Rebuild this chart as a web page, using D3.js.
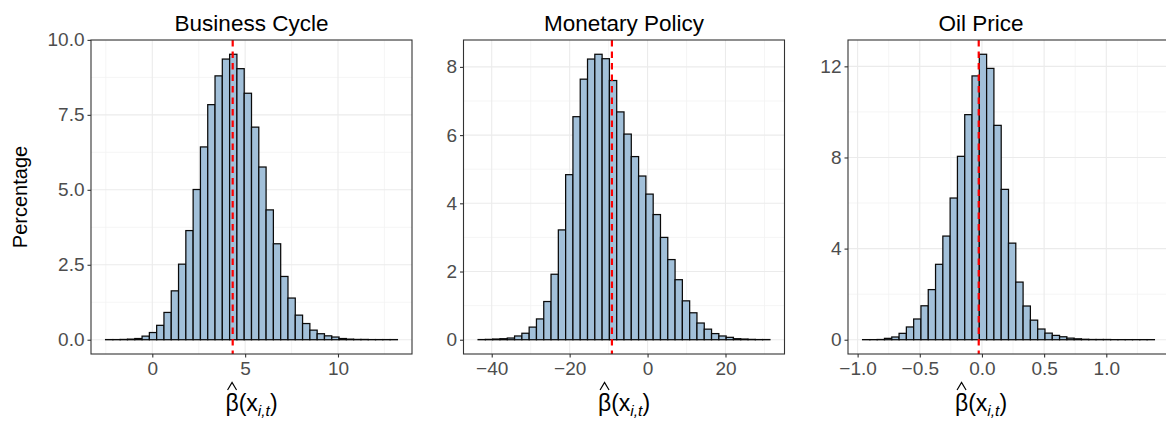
<!DOCTYPE html>
<html>
<head>
<meta charset="utf-8">
<script src="https://cdn.jsdelivr.net/npm/d3@7"></script>
<style>
  html, body { margin: 0; padding: 0; background: #fff; }
  svg { display: block; font-family: "Liberation Sans", Arial, sans-serif; }
</style>
</head>
<body>
<svg id="chart" width="1166" height="423"></svg>
<script>
// Histogram bin heights (percentage of draws), 40 equal-width bins per factor
const titles = ["Business Cycle", "Monetary Policy", "Oil Price"];

const businessCycle = [0.005, 0.005, 0.01, 0.02, 0.04, 0.12, 0.24, 0.48, 0.91, 1.63,
  2.52, 3.64, 5.01, 6.43, 7.84, 8.80, 9.36, 9.52, 9.04, 8.22,
  7.09, 5.76, 4.33, 3.20, 2.11, 1.39, 0.82, 0.54, 0.32, 0.20,
  0.13, 0.09, 0.04, 0.02, 0.01, 0.01, 0.005, 0.005, 0.005, 0.005];

const monetaryPolicy = [0.005, 0.01, 0.02, 0.03, 0.05, 0.11, 0.19, 0.37, 0.61, 1.12,
  1.92, 3.22, 4.84, 6.54, 7.64, 8.23, 8.37, 8.24, 7.60, 6.68,
  6.03, 5.37, 4.80, 4.27, 3.67, 3.00, 2.35, 1.76, 1.14, 0.79,
  0.49, 0.31, 0.18, 0.11, 0.07, 0.03, 0.02, 0.01, 0.005, 0.005];

const oilPrice = [0.005, 0.005, 0.01, 0.06, 0.12, 0.28, 0.56, 0.91, 1.49, 2.20,
  3.31, 4.55, 6.22, 8.05, 9.88, 11.58, 12.53, 11.91, 9.41, 6.60,
  4.24, 2.53, 1.48, 0.86, 0.47, 0.29, 0.19, 0.13, 0.07, 0.04,
  0.02, 0.01, 0.01, 0.01, 0.005, 0.005, 0.005, 0.005, 0.005, 0.005];

// Range covered by the bins of each histogram
const binRanges = [[-2.515, 13.2], [-43.5, 31.4], [-0.96, 1.387]];

// Mean estimate marked by the dashed line
const means = [4.33, -9.15, -0.026];

// Axis ticks
const xTicks = [[0, 5, 10], [-40, -20, 0, 20], [-1.0, -0.5, 0.0, 0.5, 1.0]];
const xMinor = [[-2.5, 2.5, 7.5, 12.5], [-30, -10, 10, 30], [-0.75, -0.25, 0.25, 0.75, 1.25]];
const yTicks = [[0, 2.5, 5, 7.5, 10], [0, 2, 4, 6, 8], [0, 4, 8, 12]];
const yMinor = [[1.25, 3.75, 6.25, 8.75], [1, 3, 5, 7], [2, 6, 10]];
const xFormats = [d3.format(".0f"), d3.format(".0f"), d3.format(".1f")];
const yFormats = [d3.format(".1f"), d3.format(".0f"), d3.format(".0f")];

const series = [businessCycle, monetaryPolicy, oilPrice];

// Layout
const panelLeft = [91, 463.5, 848];
const panelWidth = 321;
const panelTop = 40, panelBottom = 354;
const labelCenter = [251.5, 624, 981];

const svg = d3.select("#chart");
const minus = s => s.replace(/-/g, "\u2212");

series.forEach((vals, p) => {
  const [b0, b1] = binRanges[p];
  const span = b1 - b0;
  const n = vals.length;
  const bw = span / n;
  const ymax = d3.max(vals);

  const x = d3.scaleLinear()
    .domain([b0 - 0.05 * span, b1 + 0.05 * span])
    .range([panelLeft[p], panelLeft[p] + panelWidth]);
  const y = d3.scaleLinear()
    .domain([-0.05 * ymax, 1.05 * ymax])
    .range([panelBottom, panelTop]);

  const g = svg.append("g");
  const clipId = "clip" + p;
  g.append("clipPath").attr("id", clipId)
    .append("rect")
    .attr("x", panelLeft[p]).attr("y", panelTop)
    .attr("width", panelWidth).attr("height", panelBottom - panelTop);

  const inner = g.append("g").attr("clip-path", `url(#${clipId})`);

  // minor grid
  inner.selectAll("line.xmin").data(xMinor[p]).join("line")
    .attr("x1", d => x(d)).attr("x2", d => x(d))
    .attr("y1", panelTop).attr("y2", panelBottom)
    .attr("stroke", "#F2F2F2").attr("stroke-width", 0.8);
  inner.selectAll("line.ymin").data(yMinor[p]).join("line")
    .attr("y1", d => y(d)).attr("y2", d => y(d))
    .attr("x1", panelLeft[p]).attr("x2", panelLeft[p] + panelWidth)
    .attr("stroke", "#F2F2F2").attr("stroke-width", 0.8);
  // major grid
  inner.selectAll("line.xmaj").data(xTicks[p]).join("line")
    .attr("x1", d => x(d)).attr("x2", d => x(d))
    .attr("y1", panelTop).attr("y2", panelBottom)
    .attr("stroke", "#EBEBEB").attr("stroke-width", 1.1);
  inner.selectAll("line.ymaj").data(yTicks[p]).join("line")
    .attr("y1", d => y(d)).attr("y2", d => y(d))
    .attr("x1", panelLeft[p]).attr("x2", panelLeft[p] + panelWidth)
    .attr("stroke", "#EBEBEB").attr("stroke-width", 1.1);

  // bars
  inner.selectAll("rect.bar").data(vals).join("rect")
    .attr("class", "bar")
    .attr("x", (d, i) => x(b0 + i * bw))
    .attr("width", (d, i) => x(b0 + (i + 1) * bw) - x(b0 + i * bw))
    .attr("y", d => y(d))
    .attr("height", d => y(0) - y(d))
    .attr("fill", "rgb(162,192,217)")
    .attr("stroke", "#0a0a0a")
    .attr("stroke-width", 1.25);

  // mean line
  inner.append("line")
    .attr("x1", x(means[p])).attr("x2", x(means[p]))
    .attr("y1", panelTop).attr("y2", panelBottom)
    .attr("stroke", "#FF0000").attr("stroke-width", 2.2)
    .attr("stroke-dasharray", "6.5,5");

  // panel border
  g.append("rect")
    .attr("x", panelLeft[p]).attr("y", panelTop)
    .attr("width", panelWidth).attr("height", panelBottom - panelTop)
    .attr("fill", "none").attr("stroke", "#333333").attr("stroke-width", 1.1);

  // x axis
  const xAxis = g.append("g").attr("transform", `translate(0,${panelBottom})`)
    .call(d3.axisBottom(x).tickValues(xTicks[p]).tickSize(3.5).tickPadding(4)
      .tickFormat(d => minus(xFormats[p](d))));
  xAxis.select(".domain").remove();
  xAxis.selectAll(".tick line").attr("stroke", "#333333").attr("stroke-width", 1.1);
  xAxis.selectAll(".tick text").attr("fill", "#4D4D4D")
    .style("font-size", "19px").style("font-family", "Liberation Sans, Arial, sans-serif");

  // y axis
  const yAxis = g.append("g").attr("transform", `translate(${panelLeft[p]},0)`)
    .call(d3.axisLeft(y).tickValues(yTicks[p]).tickSize(3.5).tickPadding(3)
      .tickFormat(d => yFormats[p](d)));
  yAxis.select(".domain").remove();
  yAxis.selectAll(".tick line").attr("stroke", "#333333").attr("stroke-width", 1.1);
  yAxis.selectAll(".tick text").attr("fill", "#4D4D4D")
    .style("font-size", "19px").style("font-family", "Liberation Sans, Arial, sans-serif");

  // title
  svg.append("text")
    .attr("x", labelCenter[p]).attr("y", 30.5)
    .attr("text-anchor", "middle")
    .style("font-size", "22.5px").attr("fill", "#000")
    .text(titles[p]);

  // x axis title: beta-hat(x_{i,t})
  const lab = svg.append("text")
    .attr("x", labelCenter[p]).attr("y", 411)
    .attr("text-anchor", "middle")
    .style("font-size", "23px").attr("fill", "#000");
  lab.append("tspan").text("\u03B2");
  lab.append("tspan").text("(x");
  lab.append("tspan").attr("dy", 5).style("font-size", "15.5px").style("font-style", "italic").text("i,t");
  lab.append("tspan").attr("dy", -5).text(")");
  const ext = lab.node().getExtentOfChar(0);
  const hx = ext.x + ext.width / 2;
  svg.append("path")
    .attr("d", `M${hx - 4.5},${390} L${hx},${382.5} L${hx + 4.5},${390}`)
    .attr("fill", "none").attr("stroke", "#000").attr("stroke-width", 1.2);
});

// y axis title
svg.append("text")
  .attr("transform", `translate(27,${(panelTop + panelBottom) / 2}) rotate(-90)`)
  .attr("text-anchor", "middle")
  .style("font-size", "20px").attr("fill", "#000")
  .text("Percentage");
</script>
</body>
</html>
